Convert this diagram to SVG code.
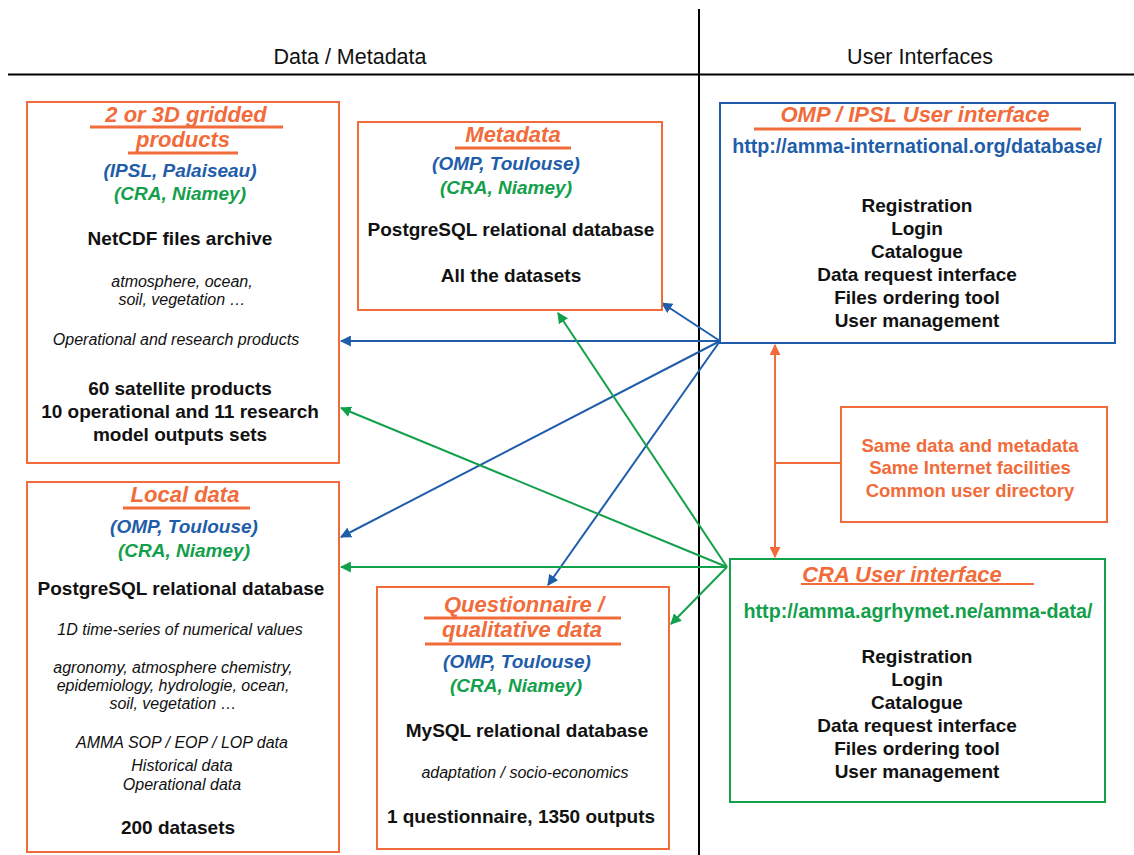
<svg xmlns="http://www.w3.org/2000/svg" width="1134" height="855" viewBox="0 0 1134 855">
<style>
text{font-family:"Liberation Sans",Arial,sans-serif;text-anchor:middle}
.h{font-size:21.5px;fill:#111}
.t{font-size:22px;font-weight:bold;font-style:italic;fill:#F26B3A}
.b{font-size:19px;font-weight:bold;fill:#111}
.i{font-size:16px;font-style:italic;fill:#111}
.bl{font-size:19px;font-weight:bold;font-style:italic;fill:#1F5DAB}
.gr{font-size:19px;font-weight:bold;font-style:italic;fill:#13A04B}
.u1{font-size:19.7px;font-weight:bold;fill:#1F5DAB}
.u2{font-size:19.7px;font-weight:bold;fill:#13A04B}
.o{font-size:18.5px;font-weight:bold;fill:#F26B3A}
.box{fill:#fff;stroke:#F26B3A;stroke-width:2}
.ul{stroke:#F26B3A;stroke-width:3}
.cb{stroke:#1F5DAB;stroke-width:2;fill:none;marker-end:url(#ab)}
.cg{stroke:#13A04B;stroke-width:2;fill:none;marker-end:url(#ag)}
</style>
<defs>
<marker id="ab" viewBox="0 0 10 10" refX="9" refY="5" markerWidth="5.5" markerHeight="5.5" orient="auto" markerUnits="strokeWidth"><path d="M0,0L10,5L0,10z" fill="#1F5DAB"/></marker>
<marker id="ag" viewBox="0 0 10 10" refX="9" refY="5" markerWidth="5.5" markerHeight="5.5" orient="auto" markerUnits="strokeWidth"><path d="M0,0L10,5L0,10z" fill="#13A04B"/></marker>
<marker id="ao" viewBox="0 0 10 10" refX="9" refY="5" markerWidth="5.5" markerHeight="5.5" orient="auto-start-reverse" markerUnits="strokeWidth"><path d="M0,0L10,5L0,10z" fill="#F26B3A"/></marker>
</defs>
<rect width="1134" height="855" fill="#fff"/>
<g id="frame">
<line x1="699" y1="9" x2="699" y2="855" stroke="#000" stroke-width="2"/>
<line x1="8" y1="74.5" x2="1134" y2="74.5" stroke="#000" stroke-width="2"/>
<text class="h" x="350" y="64">Data / Metadata</text>
<text class="h" x="920" y="64">User Interfaces</text>
</g>
<g id="connectors">
<line class="cb" x1="720" y1="341" x2="662" y2="303"/>
<line class="cb" x1="720" y1="341" x2="341" y2="341"/>
<line class="cb" x1="720" y1="341" x2="341" y2="537"/>
<line class="cb" x1="720" y1="341" x2="548" y2="585"/>
<line class="cg" x1="727" y1="567" x2="558" y2="313"/>
<line class="cg" x1="727" y1="567" x2="341" y2="408"/>
<line class="cg" x1="727" y1="567" x2="341" y2="567"/>
<line class="cg" x1="727" y1="567" x2="671" y2="624"/>
<line x1="775" y1="345" x2="775" y2="557" stroke="#F26B3A" stroke-width="2" marker-start="url(#ao)" marker-end="url(#ao)"/>
<line x1="775" y1="463" x2="841" y2="463" stroke="#F26B3A" stroke-width="2"/>
</g>
<g id="gridded">
<rect class="box" x="27" y="102" width="312" height="361"/>
<text class="t" x="186" y="122">2 or 3D gridded</text>
<line class="ul" x1="90" y1="127" x2="283" y2="127"/>
<text class="t" x="183" y="147">products</text>
<line class="ul" x1="128" y1="153" x2="238" y2="153"/>
<text class="bl" x="180" y="177">(IPSL, Palaiseau)</text>
<text class="gr" x="180" y="200">(CRA, Niamey)</text>
<text class="b" x="180" y="245">NetCDF files archive</text>
<text class="i" x="182" y="287">atmosphere, ocean,</text>
<text class="i" x="182" y="305">soil, vegetation …</text>
<text class="i" x="176" y="345">Operational and research products</text>
<text class="b" x="180" y="395">60 satellite products</text>
<text class="b" x="180" y="418">10 operational and 11 research</text>
<text class="b" x="180" y="441">model outputs sets</text>
</g>
<g id="local">
<rect class="box" x="27" y="482" width="312" height="370"/>
<text class="t" x="185" y="502">Local data</text>
<line class="ul" x1="123" y1="508" x2="250" y2="508"/>
<text class="bl" x="184" y="533">(OMP, Toulouse)</text>
<text class="gr" x="184" y="557">(CRA, Niamey)</text>
<text class="b" x="181" y="595">PostgreSQL relational database</text>
<text class="i" x="180" y="635">1D time-series of numerical values</text>
<text class="i" x="173" y="673">agronomy, atmosphere chemistry,</text>
<text class="i" x="173" y="691">epidemiology, hydrologie, ocean,</text>
<text class="i" x="173" y="709">soil, vegetation …</text>
<text class="i" x="182" y="748">AMMA SOP / EOP / LOP data</text>
<text class="i" x="182" y="771">Historical data</text>
<text class="i" x="182" y="790">Operational data</text>
<text class="b" x="178" y="834">200 datasets</text>
</g>
<g id="metadata">
<rect class="box" x="358" y="122" width="304" height="188"/>
<text class="t" x="513" y="142">Metadata</text>
<line class="ul" x1="455" y1="148" x2="571" y2="148"/>
<text class="bl" x="506" y="170">(OMP, Toulouse)</text>
<text class="gr" x="506" y="194">(CRA, Niamey)</text>
<text class="b" x="511" y="236">PostgreSQL relational database</text>
<text class="b" x="511" y="282">All the datasets</text>
</g>
<g id="questionnaire">
<rect class="box" x="377" y="587" width="292" height="262"/>
<text class="t" x="524" y="612">Questionnaire /</text>
<line class="ul" x1="424" y1="618" x2="621" y2="618"/>
<text class="t" x="522" y="637">qualitative data</text>
<line class="ul" x1="425" y1="644" x2="621" y2="644"/>
<text class="bl" x="517" y="668">(OMP, Toulouse)</text>
<text class="gr" x="516" y="692">(CRA, Niamey)</text>
<text class="b" x="527" y="737">MySQL relational database</text>
<text class="i" x="525" y="778">adaptation / socio-economics</text>
<text class="b" x="521" y="823">1 questionnaire, 1350 outputs</text>
</g>
<g id="omp-ui">
<rect x="720" y="103" width="395" height="240" fill="#fff" stroke="#1F5DAB" stroke-width="2"/>
<text class="t" x="915" y="122">OMP / IPSL User interface</text>
<line class="ul" x1="754" y1="129" x2="1081" y2="129"/>
<text class="u1" x="917" y="153">http://amma-international.org/database/</text>
<text class="b" x="917" y="212">Registration</text>
<text class="b" x="917" y="235">Login</text>
<text class="b" x="917" y="258">Catalogue</text>
<text class="b" x="917" y="281">Data request interface</text>
<text class="b" x="917" y="304">Files ordering tool</text>
<text class="b" x="917" y="327">User management</text>
</g>
<g id="note">
<rect class="box" x="841" y="407" width="266" height="115"/>
<text class="o" x="970" y="452">Same data and metadata</text>
<text class="o" x="970" y="474">Same Internet facilities</text>
<text class="o" x="970" y="497">Common user directory</text>
</g>
<g id="cra-ui">
<rect x="730" y="559" width="375" height="243" fill="#fff" stroke="#13A04B" stroke-width="2"/>
<text class="t" x="902" y="582">CRA User interface</text>
<line x1="801" y1="584" x2="1034" y2="584" stroke="#F26B3A" stroke-width="2"/>
<text class="u2" x="918" y="618">http://amma.agrhymet.ne/amma-data/</text>
<text class="b" x="917" y="663">Registration</text>
<text class="b" x="917" y="686">Login</text>
<text class="b" x="917" y="709">Catalogue</text>
<text class="b" x="917" y="732">Data request interface</text>
<text class="b" x="917" y="755">Files ordering tool</text>
<text class="b" x="917" y="778">User management</text>
</g>
</svg>
